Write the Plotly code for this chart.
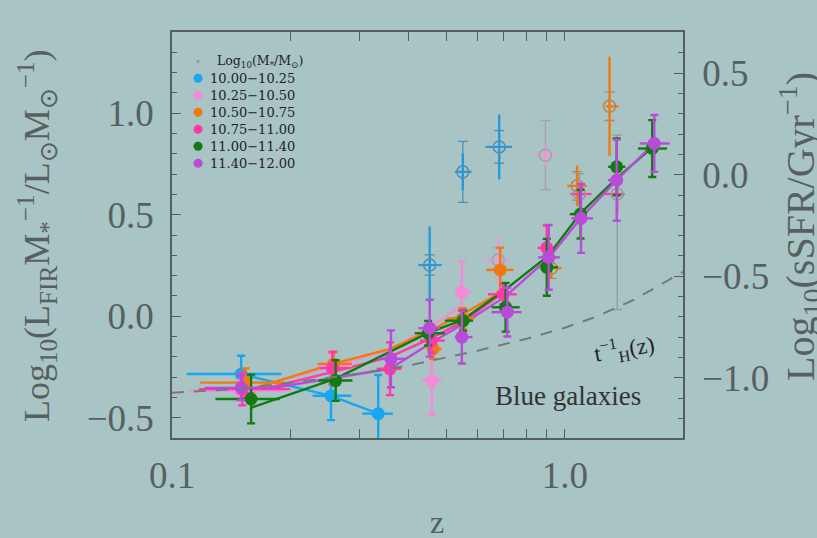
import math
import plotly.graph_objects as go

FONT = "Liberation Serif"
LFONT = "DejaVu Serif"
BG = "#a9c4c5"
AX = "#555d5d"
TXT = "#56605f"

# ---------------- data (z, log10 L_FIR/M*) ----------------
# 10.00-10.25  (blue)
blue_z = [0.150, 0.254, 0.335]
blue_y = [-0.285, -0.392, -0.480]
blue_yerr = [0.09, 0.12, 0.19]
blue_zlo = [0.109, 0.228, 0.305]
blue_zhi = [0.190, 0.286, 0.365]
blue_open_z = [0.453, 0.550, 0.681]
blue_open_y = [0.252, 0.711, 0.834]
blue_open_err = [0.19, 0.09, 0.16]
blue_open_err2 = [0.05, 0.15, 0.08]
blue_open_zlo = [0.424, 0.525, 0.628]
blue_open_zhi = [0.486, 0.579, 0.734]

# 10.25-10.50  (light pink)
lpink_z = [0.149, 0.256, 0.459, 0.547]
lpink_y = [-0.367, -0.244, -0.317, 0.118]
lpink_yerr = [0.05, 0.06, 0.17, 0.15]
lpink_zlo = [0.111, 0.235, 0.432, 0.525]
lpink_zhi = [0.194, 0.287, 0.486, 0.579]
lpink_open_z = [0.677, 0.893]
lpink_open_y = [0.277, 0.793]
lpink_open_err = [0.11, 0.05]
lpink_open_err2 = [0.06, 0.17]
lpink_open_zlo = [0.622, 0.842]
lpink_open_zhi = [0.728, 0.947]
lpink_line_z = [0.149, 0.257, 0.359, 0.453, 0.550]
lpink_line_y = [-0.372, -0.244, -0.166, -0.053, 0.056]

# 10.50-10.75  (orange)
orange_z = [0.154, 0.258, 0.462, 0.550, 0.685]
orange_y = [-0.327, -0.235, -0.161, -0.010, 0.228]
orange_yerr = [0.07, 0.06, 0.05, 0.05, 0.11]
orange_zlo = [0.118, 0.235, 0.445, 0.501, 0.630]
orange_zhi = [0.194, 0.287, 0.486, 0.590, 0.741]
orange_open_z = [0.924, 1.075, 1.300]
orange_open_y = [0.236, 0.642, 1.034]
orange_open_err = [0.05, 0.10, 0.245]
orange_open_err2 = [0.05, 0.07, 0.07]
orange_open_zlo = [0.864, 1.014, 1.271]
orange_open_zhi = [0.983, 1.139, 1.372]
orange_line_z = [0.154, 0.257, 0.359, 0.453, 0.550, 0.704]
orange_line_y = [-0.367, -0.235, -0.161, -0.072, 0.011, 0.129]

# 10.75-11.00  (hot pink)
hpink_z = [0.151, 0.256, 0.359, 0.458, 0.697, 0.900]
hpink_y = [-0.359, -0.256, -0.259, -0.120, 0.108, 0.337]
hpink_yerr = [0.08, 0.08, 0.13, 0.06, 0.05, 0.11]
hpink_zlo = [0.117, 0.238, 0.332, 0.428, 0.637, 0.854]
hpink_zhi = [0.200, 0.286, 0.384, 0.495, 0.755, 0.932]
hpink_open_z = [1.090, 1.360]
hpink_open_y = [0.602, 0.602]
hpink_open_err = [0.05, 0.10]
hpink_open_err2_up = [0.10, 0.29]
hpink_open_err2_dn = [0.10, 0.57]
hpink_open_zlo = [1.034, 1.264]
hpink_open_zhi = [1.169, 1.421]
hpink_line_z = [0.152, 0.257, 0.359, 0.453, 0.550, 0.696]
hpink_line_y = [-0.382, -0.274, -0.200, -0.112, -0.028, 0.115]

# 11.00-11.40  (green)
green_z = [0.159, 0.261, 0.449, 0.551, 0.707, 0.900, 1.097, 1.356, 1.670]
green_y = [-0.408, -0.317, -0.084, -0.022, 0.044, 0.241, 0.503, 0.736, 0.826]
green_yerr = [0.12, 0.10, 0.06, 0.05, 0.12, 0.14, 0.12, 0.14, 0.14]
green_zlo = [0.129, 0.236, 0.415, 0.495, 0.651, 0.872, 1.030, 1.289, 1.536]
green_zhi = [0.188, 0.288, 0.495, 0.584, 0.768, 0.962, 1.124, 1.426, 1.821]
green_line_z = [0.159, 0.261, 0.449, 0.550, 0.704, 0.905, 1.098, 1.357, 1.684]
green_line_y = [-0.451, -0.307, -0.082, -0.018, 0.129, 0.296, 0.508, 0.680, 0.838]

# 11.40-12.00  (purple)
purple_z = [0.150, 0.361, 0.453, 0.547, 0.714, 0.910, 1.100, 1.356, 1.690]
purple_y = [-0.353, -0.210, -0.059, -0.103, 0.020, 0.290, 0.482, 0.670, 0.851]
purple_yerr = [0.06, 0.14, 0.14, 0.13, 0.12, 0.16, 0.17, 0.20, 0.14]
purple_zlo = [0.121, 0.335, 0.424, 0.525, 0.651, 0.855, 1.040, 1.289, 1.552]
purple_zhi = [0.188, 0.392, 0.481, 0.582, 0.776, 0.971, 1.180, 1.394, 1.851]
purple_line_z = [0.152, 0.257, 0.359, 0.453, 0.550, 0.704, 0.910, 1.100, 1.357, 1.690]
purple_line_y = [-0.377, -0.303, -0.259, -0.136, -0.038, 0.095, 0.287, 0.484, 0.671, 0.853]

# inverse age curve t_H^-1(z), right-axis units log10(sSFR/Gyr^-1)
tH_z = [0.10, 0.15, 0.20, 0.30, 0.40, 0.50, 0.60, 0.80, 1.00, 1.20, 1.50, 2.00]
tH_y = [-1.074, -1.055, -1.025, -0.980, -0.940, -0.901, -0.867, -0.808, -0.754, -0.700, -0.616, -0.479]

# axis ticks
x_ticks = [0.1, 1.0]
x_ticktext = ["0.1", "1.0"]
x_minor = [0.2, 0.3, 0.4, 0.5, 0.6, 0.7, 0.8, 0.9, 2.0]
y_ticks = [-0.5, 0.0, 0.5, 1.0]
y_ticktext = ["\u22120.5", "0.0", "0.5", "1.0"]
y2_ticks = [-1.0, -0.5, 0.0, 0.5]
y2_ticktext = ["\u22121.0", "\u22120.5", "0.0", "0.5"]

# legend
legend_title = "Log<sub>10</sub>(M<sub>*</sub>/M<sub>\u2299</sub>)"
bins = ["10.00\u221210.25", "10.25\u221210.50", "10.50\u221210.75",
        "10.75\u221211.00", "11.00\u221211.40", "11.40\u221212.00"]
colors = ["#1aa6ef", "#f48ad8", "#ef7b10", "#ff3aa6", "#117a11", "#b84bd8"]

fig = go.Figure()


def xerr(z, lo, hi):
    return dict(type="data", symmetric=False,
                array=[h - v for v, h in zip(z, hi)],
                arrayminus=[v - l for v, l in zip(z, lo)])


def add_line(z, y, color):
    fig.add_trace(go.Scatter(x=z, y=y, mode="lines", showlegend=False,
                             hoverinfo="skip", line=dict(color=color, width=2.4)))


def add_filled(z, y, yerr, lo, hi, color, name):
    ex = xerr(z, lo, hi)
    ex.update(color=color, thickness=2.4, width=0)
    fig.add_trace(go.Scatter(
        x=z, y=y, mode="markers", name=name, showlegend=False,
        marker=dict(color=color, size=13, line=dict(width=0)),
        error_y=dict(type="data", array=yerr, color=color, thickness=2.4, width=4),
        error_x=ex))


def add_open(z, y, err, err2, lo, hi, color, fcolor, err2_dn=None):
    e2 = dict(type="data", array=err2, color=fcolor, thickness=1.3, width=5)
    if err2_dn is not None:
        e2.update(symmetric=False, arrayminus=err2_dn)
    fig.add_trace(go.Scatter(x=z, y=y, mode="markers", showlegend=False,
                             marker=dict(size=1, color="rgba(0,0,0,0)"),
                             error_y=e2, hoverinfo="skip"))
    ex = xerr(z, lo, hi)
    ex.update(color=color, thickness=2.2, width=0)
    fig.add_trace(go.Scatter(
        x=z, y=y, mode="markers", showlegend=False,
        marker=dict(symbol="circle-open", size=12, color=fcolor, line=dict(width=1.5)),
        error_y=dict(type="data", array=err, color=color, thickness=2.4, width=0),
        error_x=ex))


# reference curve on the right axis
fig.add_trace(go.Scatter(x=tH_z, y=tH_y, yaxis="y2", mode="lines", showlegend=False,
                         hoverinfo="skip",
                         line=dict(color="#747a7a", width=2, dash="12px,10px")))

# connecting lines
add_line(blue_z, blue_y, colors[0])
add_line(lpink_line_z, lpink_line_y, colors[1])
add_line(orange_line_z, orange_line_y, colors[2])
add_line(hpink_line_z, hpink_line_y, colors[3])
add_line(green_line_z, green_line_y, colors[4])
add_line(purple_line_z, purple_line_y, colors[5])

# open symbols
add_open(blue_open_z, blue_open_y, blue_open_err, blue_open_err2,
         blue_open_zlo, blue_open_zhi, "#2b98d6", "#4a8fba")
add_open(lpink_open_z, lpink_open_y, lpink_open_err, lpink_open_err2,
         lpink_open_zlo, lpink_open_zhi, "#ee96d6", "#a8a0a8")
add_open(orange_open_z, orange_open_y, orange_open_err, orange_open_err2,
         orange_open_zlo, orange_open_zhi, "#ef7b10", "#c08050")
add_open(hpink_open_z, hpink_open_y, hpink_open_err, hpink_open_err2_up,
         hpink_open_zlo, hpink_open_zhi, "#ff3aa6", "#909aa0", err2_dn=hpink_open_err2_dn)

# filled symbols
add_filled(blue_z, blue_y, blue_yerr, blue_zlo, blue_zhi, colors[0], bins[0])
add_filled(lpink_z, lpink_y, lpink_yerr, lpink_zlo, lpink_zhi, colors[1], bins[1])
add_filled(orange_z, orange_y, orange_yerr, orange_zlo, orange_zhi, colors[2], bins[2])
add_filled(hpink_z, hpink_y, hpink_yerr, hpink_zlo, hpink_zhi, colors[3], bins[3])
add_filled(green_z, green_y, green_yerr, green_zlo, green_zhi, colors[4], bins[4])
add_filled(purple_z, purple_y, purple_yerr, purple_zlo, purple_zhi, colors[5], bins[5])

# ---- hand-built legend (compact rows like the original) ----
leg_x_marker = 0.051
leg_x_text = 0.070
leg_y0 = 0.928
leg_dy = 0.0419
shapes = []
annotations = []
rows = [(legend_title, "#8a9a9a", 1.5)] + [(b, c, 4.5) for b, c in zip(bins, colors)]
for i, (label, col, r) in enumerate(rows):
    yy = leg_y0 - i * leg_dy
    shapes.append(dict(type="circle", xref="paper", yref="paper",
                       xsizemode="pixel", ysizemode="pixel",
                       xanchor=leg_x_marker, yanchor=yy,
                       x0=-r, x1=r, y0=-r, y1=r,
                       fillcolor=col, line=dict(width=0)))
    annotations.append(dict(text=label, xref="paper", yref="paper",
                            x=leg_x_text if i else leg_x_text + 0.014, y=yy,
                            xanchor="left", yanchor="middle", showarrow=False,
                            font=dict(family=LFONT, size=13 if i else 12.5, color="#222")))

annotations += [
    dict(text="Log<sub>10</sub>(L<sub>FIR</sub>M<sub>*</sub><sup>\u22121</sup>/L<sub>\u2299</sub>M<sub>\u2299</sub><sup>\u22121</sup>)",
         xref="paper", yref="paper", x=-0.264, y=0.4975, textangle=-90,
         showarrow=False, xanchor="center", yanchor="middle",
         font=dict(family=FONT, size=36, color=TXT)),
    dict(text="Log<sub>10</sub>(sSFR/Gyr<sup>\u22121</sup>)",
         xref="paper", yref="paper", x=1.229, y=0.52, textangle=-90,
         showarrow=False, xanchor="center", yanchor="middle",
         font=dict(family=FONT, size=40, color=TXT)),
    dict(text="z", xref="paper", yref="paper", x=0.5186, y=-0.207,
         showarrow=False, xanchor="center", yanchor="middle",
         font=dict(family=FONT, size=32, color=TXT)),
    dict(text="Blue galaxies", xref="paper", yref="paper", x=0.775, y=0.103,
         showarrow=False, xanchor="center", yanchor="middle",
         font=dict(family=FONT, size=27, color="#333")),
    dict(text="t<sup>\u22121</sup><sub>H</sub>(z)", xref="paper", yref="paper",
         x=0.886, y=0.22, textangle=-10, showarrow=False,
         xanchor="center", yanchor="middle",
         font=dict(family=FONT, size=23, color="#222")),
]

tickfont = dict(family=FONT, size=37, color=TXT)
fig.update_layout(
    width=817, height=538,
    margin=dict(l=172, r=134, t=32, b=100),
    paper_bgcolor=BG, plot_bgcolor=BG,
    font=dict(family=FONT, color="#333"),
    showlegend=False,
    xaxis=dict(type="log", range=[-1, math.log10(2.0)],
               tickvals=x_ticks, ticktext=x_ticktext, tickfont=tickfont,
               ticks="inside", ticklen=9, tickcolor=AX, tickwidth=1,
               ticklabelstandoff=4,
               minor=dict(tickvals=x_minor, ticks="inside", ticklen=5, tickcolor=AX),
               showline=True, linecolor=AX, linewidth=1.5, mirror="allticks",
               showgrid=False, zeroline=False),
    yaxis=dict(range=[-0.6, 1.4], tickvals=y_ticks, ticktext=y_ticktext,
               tickfont=tickfont, ticks="inside", ticklen=9, tickcolor=AX,
               ticklabelstandoff=9,
               minor=dict(dtick=0.1, ticks="inside", ticklen=5, tickcolor=AX),
               showline=True, linecolor=AX, linewidth=1.5,
               showgrid=False, zeroline=False),
    yaxis2=dict(overlaying="y", side="right", range=[-1.297, 0.703],
                tickvals=y2_ticks, ticktext=y2_ticktext, tickfont=tickfont,
                ticks="inside", ticklen=9, tickcolor=AX, ticklabelstandoff=10,
                minor=dict(dtick=0.1, ticks="inside", ticklen=5, tickcolor=AX),
                showline=True, linecolor=AX, linewidth=1.5,
                showgrid=False, zeroline=False),
    shapes=shapes,
    annotations=annotations,
)

fig.write_html("out.html", config={"displayModeBar": False},
               post_script="document.body.style.margin='0';document.body.style.background='" + BG + "';")
